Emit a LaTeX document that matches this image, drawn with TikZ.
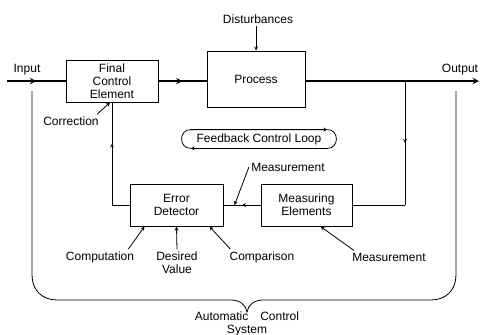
\documentclass[tikz,border=0pt]{standalone}
\usepackage{fontspec}
\setmainfont{Liberation Sans}
\usetikzlibrary{arrows, decorations.markings}

\begin{document}
\begin{tikzpicture}[x=1pt, y=-1pt, line width=0.8pt, font=\fontsize{12}{13}\selectfont]
		\tikzstyle{Block} = [rectangle, minimum width=92pt, minimum height=42pt, text centered, align=center, draw=black, line width=1pt, fill=white]
		\tikzstyle{Label} = [inner sep=2pt, align=center]
		\tikzstyle{arrow} = [->,>=stealth]
		\tikzstyle{mainline} = [line width=1.8pt]
		\tikzstyle{midarrow} = [postaction={decorate}, decoration={markings, mark=at position 0.5 with {\arrow{stealth}}}]
		
		\useasboundingbox (0,0) rectangle (480,335);
		
		% blocks
		\node (fce) [Block] at (112,81) {Final\\Control\\Element};
		\node (process) [Block, minimum width=98pt, minimum height=56pt] at (256,79) {Process};
		\node (errdet) [Block, minimum width=93pt] at (176.5,205) {Error\\Detector};
		\node (meas) [Block, minimum width=91pt] at (306.5,205) {Measuring\\Elements};
		
		% signal line
		\coordinate (in) at (7,81);
		\coordinate (out) at (479,81);
		\coordinate (tap) at (405,81);
		\coordinate (turn) at (405,205);
		\coordinate (back) at (112,205);
		\draw[mainline, midarrow] (in) -- (fce.west);
		\draw[mainline, midarrow] (fce.east) -- (fce.east -| process.west);
		\draw[mainline, ->, >=stealth] (process.east |- out) -- (out);
		\node (input) [Label] at (27,70) {Input};
		\node (output) [Label] at (460,70) {Output};
		\node (dist) [Label] at (258,19) {Disturbances};
		\draw[arrow] (dist.south -| process.north) -- (process.north);
		
		% feedback path
		\draw[midarrow] (tap) -- (turn);
		\draw (turn) -- (meas.east);
		\draw[midarrow] (meas.west) -- (errdet.east);
		\draw (errdet.west) -- (back);
		\draw[postaction={decorate}, decoration={markings, mark=at position 0.6 with {\arrow{stealth}}}] (back) -- (fce.south);
		
		% loop label
		\node (loop) [minimum width=136pt, minimum height=18pt, inner sep=0pt] at (259,139) {Feedback Control Loop};
		\draw[arrow] (loop.south west) .. controls +(-12,0) and +(-12,0) .. (loop.north west) -- (loop.north east);
		\draw[arrow] (loop.north east) .. controls +(12,0) and +(12,0) .. (loop.south east) -- (loop.south west);
		
		% annotations
		\node (corr) [Label] at (71,121) {Correction};
		\draw[arrow] ([xshift=-4pt]corr.north east) -- ([xshift=-2pt]fce.south);
		\node (msrup) [Label] at (288,167) {Measurement};
		\draw[arrow] (msrup.west) -- ([xshift=11pt]errdet.east);
		\node (comp) [Label] at (100,257) {Computation};
		\draw[arrow] ([xshift=-8pt]comp.north east) -- ([xshift=-32pt]errdet.south);
		\node (des) [Label] at (177,263) {Desired\\Value};
		\draw[arrow] (des.north) -- (errdet.south);
		\node (cmp) [Label] at (262,257) {Comparison};
		\draw[arrow] ([xshift=3pt]cmp.north west) -- ([xshift=33pt]errdet.south);
		\node (msrlow) [Label] at (389,257) {Measurement};
		\draw[arrow] ([xshift=4pt]msrlow.north west) -- ([xshift=14pt]meas.south);
		
		% brace
		\draw (32,91) -- (32,275) .. controls (32,290) and (42,300) .. (57,300) -- (231,300)
			.. controls (240,300) and (246,305) .. (247,312)
			.. controls (248,305) and (254,300) .. (263,300) -- (431,300)
			.. controls (446,300) and (456,290) .. (456,275) -- (456,91);
		\node (acs) [Label, inner sep=0pt] at (247,324) {Automatic\quad Control\\System};
		\end{tikzpicture}
\end{document}
